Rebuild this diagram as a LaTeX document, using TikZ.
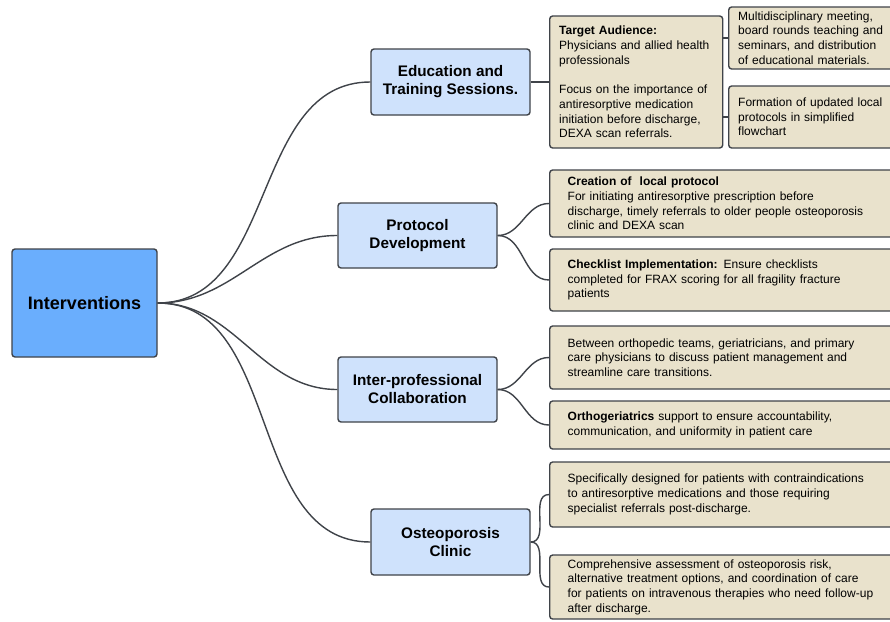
\documentclass[tikz,border=0pt]{standalone}
\usepackage{fontspec}
\setmainfont{Liberation Sans}
\usetikzlibrary{positioning}
\definecolor{rootblue}{RGB}{106,174,253}
\definecolor{lightblue}{RGB}{207,226,252}
\definecolor{beige}{RGB}{233,226,204}
\definecolor{edgegray}{RGB}{63,67,73}
\begin{document}
\begin{tikzpicture}[x=1pt,y=-1pt,
base/.style={draw=edgegray,line width=1.4pt,rounded corners=3pt},
rootbox/.style={base,fill=rootblue,minimum width=145pt,minimum height=108pt,font=\fontsize{18}{22}\selectfont\bfseries},
topic/.style={base,fill=lightblue,minimum width=159pt,minimum height=66pt,align=center,font=\fontsize{15.3}{18}\selectfont\bfseries},
note/.style={base,fill=beige,anchor=west,align=left,inner xsep=18pt,text width=330pt,font=\fontsize{12}{14.7}\selectfont},
small/.style={note,inner xsep=9.5pt},
link/.style={draw=edgegray,line width=1.4pt}]
\fill[white] (0,0) rectangle (890,621);
\useasboundingbox (0,0) rectangle (890,621);
\clip (0,0) rectangle (890,621);
\node[rootbox] (root) at (84.5,303) {Interventions};
\node[topic] (edu) at (450.5,82) {Education and\\Training Sessions.};
\node[topic,minimum height=65pt] (proto) at (417.5,235.5) {Protocol\\Development};
\node[topic,minimum height=65pt] (collab) at (417.5,389.5) {Inter-professional\\Collaboration};
\node[topic] (clinic) at (450.5,542) {Osteoporosis\\Clinic};
\node[small,text width=154pt,minimum height=132pt] (audience) at (549,82) {\textbf{Target Audience:}\\Physicians and allied health\\professionals\\[14.7pt]Focus on the importance of\\antiresorptive medication\\initiation before discharge,\\DEXA scan referrals.};
\node[small,minimum height=62pt] (meeting) at (728,38) {Multidisciplinary meeting,\\board rounds teaching and\\seminars, and distribution\\of educational materials.};
\node[small,minimum height=62pt] (flow) at (728,117) {Formation of updated local\\protocols in simplified\\flowchart};
\node[note,minimum height=67pt] (local) at (549,203.5) {\textbf{Creation of\ \ local protocol}\\For initiating antiresorptive prescription before\\discharge, timely referrals to older people osteoporosis\\clinic and DEXA scan};
\node[note,minimum height=62pt] (check) at (549,280) {\textbf{Checklist Implementation:} Ensure checklists\\completed for FRAX scoring for all fragility fracture\\patients};
\node[note,minimum height=63pt] (teams) at (549,357.5) {Between orthopedic teams, geriatricians, and primary\\care physicians to discuss patient management and\\streamline care transitions.};
\node[note,minimum height=48pt] (ortho) at (549,425) {\textbf{Orthogeriatrics} support to ensure accountability,\\communication, and uniformity in patient care};
\node[note,minimum height=65pt] (contra) at (549,494.5) {Specifically designed for patients with contraindications\\to antiresorptive medications and those requiring\\specialist referrals post-discharge.};
\node[note,minimum height=64pt] (assess) at (549,587) {Comprehensive assessment of osteoporosis risk,\\alternative treatment options, and coordination of care\\for patients on intravenous therapies who need follow-up\\after discharge.};
\foreach \t in {edu,proto,collab,clinic}
  \draw[link] (root.east) to[out=0,in=180] (\t.west);
\draw[link] (edu.east) -- (audience.west);
\draw[link] (audience.east |- meeting.west) -- (meeting.west);
\draw[link] (audience.east |- flow.west) -- (flow.west);
\draw[link] (proto.east) to[out=0,in=180] (local.west);
\draw[link] (proto.east) to[out=0,in=180] (check.west);
\draw[link] (collab.east) to[out=0,in=180] (teams.west);
\draw[link] (collab.east) to[out=0,in=180] (ortho.west);
\draw[link] (clinic.east) to[out=0,in=180] (contra.west);
\draw[link] (clinic.east) to[out=0,in=180] (assess.west);
\end{tikzpicture}
\end{document}
